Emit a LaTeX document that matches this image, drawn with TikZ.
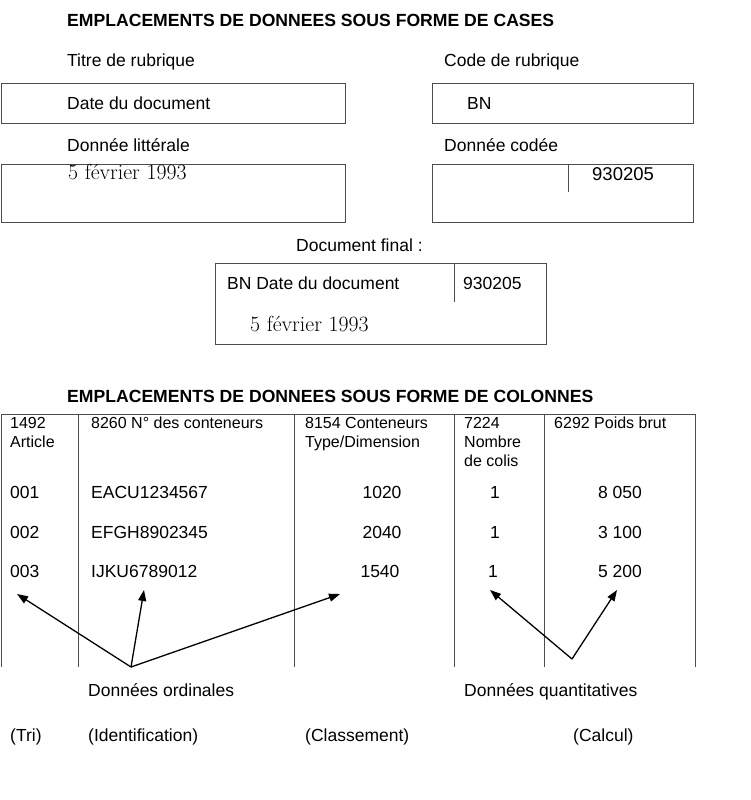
\documentclass[tikz,border=0pt]{standalone}
\usepackage{fontspec}
\setmainfont{Liberation Sans}
\newfontfamily\lmfont{Latin Modern Roman}
\usetikzlibrary{arrows.meta}

\begin{document}
\begin{tikzpicture}[x=1pt,y=-1pt]
            \useasboundingbox (0,0) rectangle (750,800);
            % cases
            \begin{scope}[every node/.style={draw=black!70,line width=1pt,anchor=north west,inner sep=0pt}]
                \node[minimum width=344pt,minimum height=40pt] (B1) at (1,83) {};
                \node[minimum width=261pt,minimum height=40pt] (B2) at (432,83) {};
                \node[minimum width=344pt,minimum height=58pt] (B3) at (1,164) {};
                \node[minimum width=261pt,minimum height=58pt] (B4) at (432,164) {};
                \node[minimum width=331pt,minimum height=81pt] (B5) at (215,263) {};
            \end{scope}
            \draw[black!70,line width=1pt] (568,164) -- (568,192);
            \draw[black!70,line width=1pt] (454,263) -- (454,302);
            % colonnes
            \begin{scope}[black!70,line width=1pt]
                \draw (1,414) -- (695,414);
                \foreach \x in {1,78,294,454,544,695}
                    \draw (\x,414) -- (\x,667);
            \end{scope}
            % textes
            \begin{scope}[every node/.style={anchor=west,inner sep=0pt,text height=12.5pt,text depth=0pt,font=\fontsize{17.5}{21}\selectfont}]
                \node[font=\fontsize{17.6}{21}\selectfont\bfseries] (T1) at (67,20) {EMPLACEMENTS DE DONNEES SOUS FORME DE CASES};
                \node (L1) at (67,60) {Titre de rubrique};
                \node (L2) at (444,60) {Code de rubrique};
                \node (V1) at (67,103) {Date du document};
                \node (V2) at (467,103) {BN};
                \node (L3) at (67,145) {Donnée littérale};
                \node (L4) at (444,145) {Donnée codée};
                \node[text height=13.2pt,font=\fontsize{18.5}{22}\selectfont] (V4) at (592,174) {930205};
                \node (L5) at (296,245) {Document final :};
                \node (V5) at (227,283) {BN Date du document};
                \node (V6) at (463,283) {930205};
                \node[font=\fontsize{17.6}{21}\selectfont\bfseries] (T2) at (67,396) {EMPLACEMENTS DE DONNEES SOUS FORME DE COLONNES};
                \node (R1a) at (10,492) {001};
                \node (R1b) at (91,492) {EACU1234567};
                \node[anchor=center] (R1c) at (382,492) {1020};
                \node[anchor=center] (R1d) at (495,492) {1};
                \node[anchor=center] (R1e) at (620,492) {8 050};
                \node (R2a) at (10,532) {002};
                \node (R2b) at (91,532) {EFGH8902345};
                \node[anchor=center] (R2c) at (382,532) {2040};
                \node[anchor=center] (R2d) at (495,532) {1};
                \node[anchor=center] (R2e) at (620,532) {3 100};
                \node (R3a) at (10,571) {003};
                \node (R3b) at (91,571) {IJKU6789012};
                \node[anchor=center] (R3c) at (380,571) {1540};
                \node[anchor=center] (R3d) at (493,571) {1};
                \node[anchor=center] (R3e) at (620,571) {5 200};
                \node (D1) at (88,690) {Données ordinales};
                \node (D2) at (464,690) {Données quantitatives};
                \node (P1) at (10,735) {(Tri)};
                \node (P2) at (88,735) {(Identification)};
                \node (P3) at (305,735) {(Classement)};
                \node (P4) at (573,735) {(Calcul)};
            \end{scope}
            % en-tetes des colonnes
            \begin{scope}[every node/.style={anchor=north west,inner sep=0pt,align=left,font=\fontsize{16}{19}\selectfont}]
                \node (H1) at (10,417) {1492\\Article};
                \node (H2) at (91,417) {8260 N° des conteneurs};
                \node (H3) at (305,417) {8154 Conteneurs\\Type/Dimension};
                \node (H4) at (464,417) {7224\\Nombre\\de colis};
                \node (H5) at (554,417) {6292 Poids brut};
            \end{scope}
            % dates en clair
            \node[anchor=base west,inner sep=0pt,font=\lmfont\fontsize{21.8}{26}\selectfont] (S1) at (68,179) {5 février 1993};
            \node[anchor=base west,inner sep=0pt,font=\lmfont\fontsize{21.8}{26}\selectfont] (S2) at (250,331) {5 février 1993};
            % fleches
            \coordinate (ordo) at (131,667);
            \coordinate (triP) at (17,594);
            \coordinate (idP) at (144,590);
            \coordinate (clP) at (340,594);
            \coordinate (quant) at (572,659);
            \coordinate (nbP) at (490,590);
            \coordinate (pdsP) at (617,590);
            \path [-{Triangle[length=11pt,width=8pt]}] (ordo) edge[draw=black,line width=1.3pt] (triP);
            \path [-{Triangle[length=11pt,width=8pt]}] (ordo) edge[draw=black,line width=1.3pt] (idP);
            \path [-{Triangle[length=11pt,width=8pt]}] (ordo) edge[draw=black,line width=1.3pt] (clP);
            \path [-{Triangle[length=11pt,width=8pt]}] (quant) edge[draw=black,line width=1.3pt] (nbP);
            \path [-{Triangle[length=11pt,width=8pt]}] (quant) edge[draw=black,line width=1.3pt] (pdsP);
        \end{tikzpicture}
\end{document}
